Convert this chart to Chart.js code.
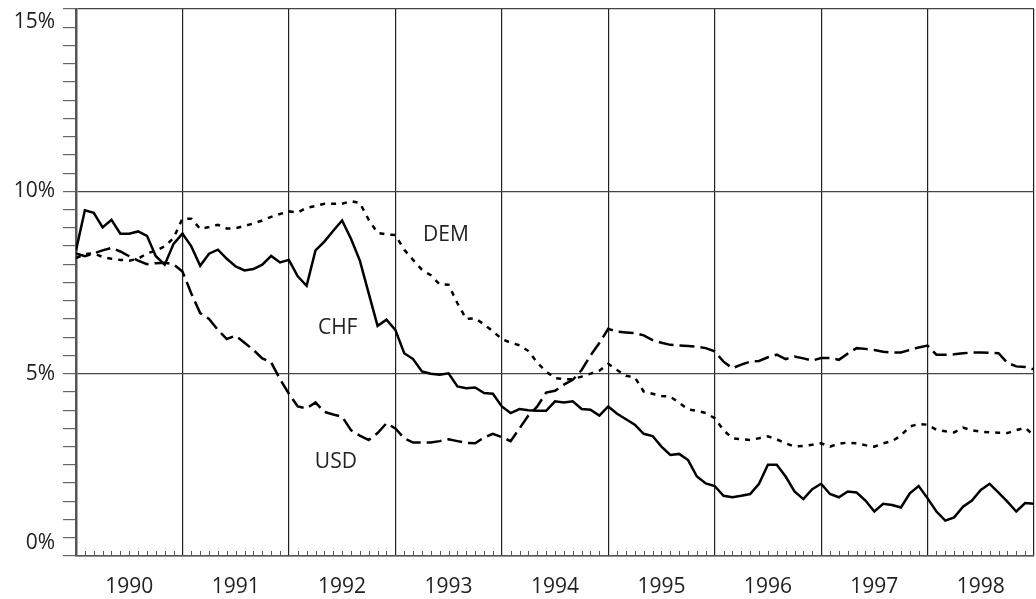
<!DOCTYPE html>
<html lang="en">
<head>
  <meta charset="UTF-8" />
  <title>Interest rates 1990-1998</title>
  <script src="https://cdn.jsdelivr.net/npm/chart.js"></script>
  <style>
    body { margin: 0; background: #fff; }
    #wrap { width: 1036px; height: 599px; }
  </style>
</head>
<body>
  <div id="wrap"><canvas id="rateChart"></canvas></div>

  <script>
    // month index 0 = start of 1990, 108 = end of 1998
    const years = ['1990', '1991', '1992', '1993', '1994', '1995', '1996', '1997', '1998'];

    const chf = [
      8.38, 9.48, 9.41, 9.01, 9.22, 8.84, 8.84, 8.90, 8.78, 8.22, 7.99, 8.56,
      8.84, 8.49, 7.96, 8.29, 8.40, 8.15, 7.94, 7.83, 7.87, 7.99, 8.23, 8.05,
      8.12, 7.67, 7.41, 8.38, 8.62, 8.92, 9.20, 8.70, 8.10, 7.20, 6.31, 6.48,
      6.20, 5.56, 5.40, 5.06, 5.00, 4.97, 5.01, 4.65, 4.60, 4.62, 4.47, 4.45,
      4.10, 3.92, 4.03, 4.00, 3.98, 3.98, 4.24, 4.21, 4.24, 4.03, 4.01, 3.85,
      4.10, 3.90, 3.75, 3.60, 3.35, 3.29, 3.00, 2.77, 2.80, 2.63, 2.18, 1.99,
      1.92, 1.65, 1.61, 1.65, 1.70, 1.98, 2.50, 2.50, 2.18, 1.77, 1.56, 1.83,
      1.98, 1.70, 1.61, 1.77, 1.74, 1.52, 1.22, 1.43, 1.40, 1.33, 1.72, 1.92,
      1.58, 1.22, 0.97, 1.06, 1.35, 1.52, 1.81, 1.98, 1.74, 1.49, 1.22, 1.45,
      1.43
    ];

    const dem = [
      8.17, 8.28, 8.30, 8.20, 8.15, 8.12, 8.10, 8.15, 8.30, 8.37, 8.49, 8.72,
      9.25, 9.25, 8.97, 9.02, 9.08, 8.98, 8.99, 9.05, 9.12, 9.20, 9.30, 9.38,
      9.45, 9.42, 9.55, 9.60, 9.66, 9.66, 9.66, 9.73, 9.68, 9.22, 8.86, 8.82,
      8.80, 8.40, 8.12, 7.85, 7.70, 7.45, 7.44, 6.93, 6.50, 6.52, 6.35, 6.16,
      5.95, 5.85, 5.78, 5.62, 5.30, 5.06, 4.88, 4.85, 4.85, 4.92, 5.00, 5.08,
      5.27, 5.10, 4.94, 4.90, 4.51, 4.45, 4.39, 4.37, 4.20, 4.02, 3.98, 3.92,
      3.78, 3.45, 3.23, 3.20, 3.18, 3.23, 3.28, 3.20, 3.09, 3.00, 3.02, 3.05,
      3.09, 3.00, 3.08, 3.11, 3.09, 3.04, 3.00, 3.09, 3.15, 3.30, 3.55, 3.62,
      3.60, 3.46, 3.42, 3.39, 3.52, 3.45, 3.41, 3.39, 3.38, 3.37, 3.45, 3.52,
      3.30
    ];

    const usd = [
      8.30, 8.22, 8.30, 8.38, 8.45, 8.35, 8.22, 8.10, 8.00, 8.03, 8.04, 8.00,
      7.80, 7.20, 6.66, 6.50, 6.20, 5.95, 6.04, 5.85, 5.65, 5.42, 5.31, 4.85,
      4.45, 4.10, 4.05, 4.21, 3.95, 3.88, 3.82, 3.45, 3.30, 3.18, 3.37, 3.64,
      3.50, 3.23, 3.11, 3.11, 3.11, 3.15, 3.20, 3.15, 3.10, 3.09, 3.25, 3.35,
      3.26, 3.15, 3.50, 3.85, 4.10, 4.48, 4.53, 4.70, 4.83, 5.10, 5.50, 5.84,
      6.23, 6.15, 6.13, 6.11, 6.05, 5.92, 5.85, 5.79, 5.77, 5.76, 5.74, 5.70,
      5.61, 5.33, 5.15, 5.25, 5.33, 5.35, 5.45, 5.52, 5.40, 5.47, 5.42, 5.36,
      5.43, 5.43, 5.38, 5.55, 5.70, 5.68, 5.65, 5.60, 5.58, 5.58, 5.65, 5.72,
      5.77, 5.52, 5.52, 5.53, 5.56, 5.58, 5.58, 5.57, 5.56, 5.30, 5.20, 5.18,
      5.12
    ];

    // series names written next to the lines (month, percent)
    const seriesNames = ['CHF', 'DEM', 'USD'];
    const namePlaces = { CHF: [29.5, 6.26], DEM: [41.7, 8.81], USD: [29.3, 2.58] };

    const FONT = "'Open Sans', 'DejaVu Sans', sans-serif";

    const toPoints = arr => arr.map((v, i) => ({ x: i, y: v }));

    // y labels: top one sits below its line, bottom one above it
    const yLabel = v => {
      if (v % 5 !== 0) return '';
      if (v === 15) return ['', v + '%'];
      if (v === 0) return [v + '%', ''];
      return v + '%';
    };

    // small monthly ticks along the bottom + the series names
    const decorations = {
      id: 'decorations',
      afterDatasetsDraw(chart) {
        const { ctx, chartArea, scales } = chart;
        ctx.save();
        ctx.strokeStyle = '#555';
        ctx.lineWidth = 1;
        for (let m = 1; m < 108; m++) {
          if (m % 12 === 0) continue;
          const px = Math.round(scales.x.getPixelForValue(m)) + 0.5;
          ctx.beginPath();
          ctx.moveTo(px, chartArea.bottom);
          ctx.lineTo(px, chartArea.bottom - 5);
          ctx.stroke();
        }
        ctx.fillStyle = '#222';
        ctx.font = '21px ' + FONT;
        ctx.textAlign = 'center';
        ctx.textBaseline = 'middle';
        seriesNames.forEach(name => {
          const [mx, my] = namePlaces[name];
          ctx.fillText(name, scales.x.getPixelForValue(mx), scales.y.getPixelForValue(my));
        });
        ctx.restore();
      }
    };

    Chart.defaults.font.family = FONT;
    Chart.defaults.color = '#222';

    new Chart(document.getElementById('rateChart'), {
      type: 'line',
      data: {
        datasets: [
          { label: 'CHF', data: toPoints(chf), borderColor: '#000', borderWidth: 2.5 },
          { label: 'DEM', data: toPoints(dem), borderColor: '#000', borderWidth: 2.5, borderDash: [5, 6] },
          { label: 'USD', data: toPoints(usd), borderColor: '#000', borderWidth: 2.5, borderDash: [15, 6] }
        ]
      },
      options: {
        responsive: true,
        maintainAspectRatio: false,
        animation: false,
        elements: { point: { radius: 0 }, line: { tension: 0 } },
        layout: { padding: { top: 9, right: 2, left: 0, bottom: 0 } },
        plugins: { legend: { display: false }, tooltip: { enabled: false } },
        scales: {
          x: {
            type: 'linear',
            min: 0,
            max: 108,
            afterBuildTicks: scale => {
              scale.ticks = [];
              for (let m = 0; m <= 108; m += 6) scale.ticks.push({ value: m });
            },
            afterFit: scale => {
              scale.height = 43;
              scale.paddingLeft = 0;
              scale.paddingRight = 0;
            },
            ticks: {
              autoSkip: false,
              maxRotation: 0,
              padding: 18,
              font: { size: 21 },
              callback: v => (v % 12 === 6 ? years[(v - 6) / 12] : '')
            },
            grid: {
              drawTicks: false,
              color: ctx => (ctx.tick && ctx.tick.value % 12 === 0 ? '#222' : 'rgba(0,0,0,0)'),
              lineWidth: 1.2
            },
            border: { display: true, color: '#555', width: 1.5 }
          },
          y: {
            min: 0,
            max: 15,
            afterFit: scale => {
              scale.width = 76;
              scale.paddingTop = 0;
              scale.paddingBottom = 0;
            },
            ticks: {
              stepSize: 0.5,
              autoSkip: false,
              padding: 8,
              font: { size: 21 },
              callback: yLabel
            },
            grid: {
              tickLength: 13,
              tickColor: '#666',
              color: ctx => (ctx.tick && ctx.tick.value % 5 === 0 ? '#444' : 'rgba(0,0,0,0)'),
              lineWidth: 1.2
            },
            border: { display: true, color: '#555', width: 2.5 }
          }
        }
      },
      plugins: [decorations]
    });
  </script>
</body>
</html>
